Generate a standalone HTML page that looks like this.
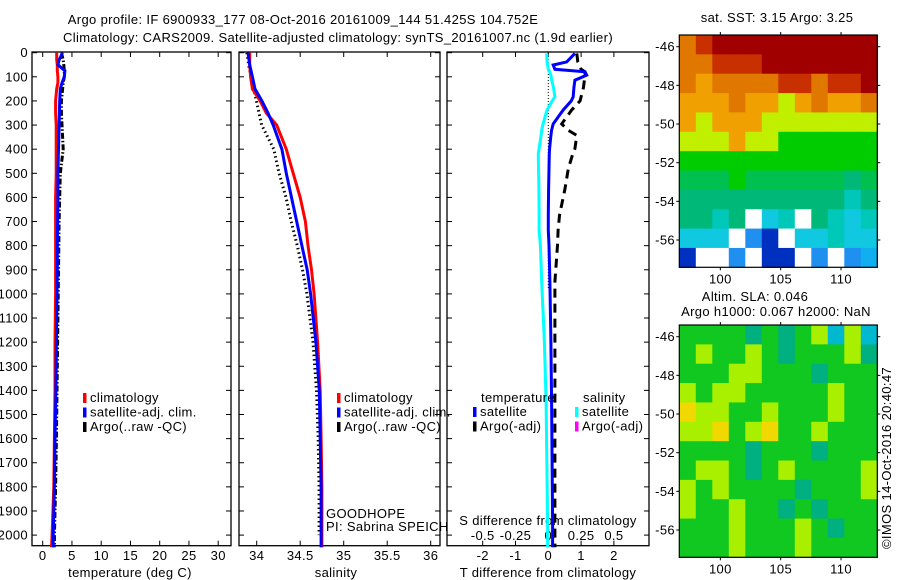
<!DOCTYPE html>
<html><head><meta charset="utf-8">
<style>
html,body{margin:0;padding:0;background:#fff;}
svg{display:block;font-family:"Liberation Sans",sans-serif;font-size:13px;letter-spacing:0.35px;}
</style></head>
<body>
<svg id="fig" width="900" height="580" viewBox="0 0 900 580" xmlns="http://www.w3.org/2000/svg">
<text x="303" y="24" text-anchor="middle">Argo profile: IF 6900933_177 08-Oct-2016 20161009_144 51.425S 104.752E</text>
<text x="338" y="42" text-anchor="middle">Climatology: CARS2009. Satellite-adjusted climatology: synTS_20161007.nc (1.9d earlier)</text>
<g id="g"></g>
</svg>
<script>
// ---- data ----
const depthT = [0,10,20,30,50,75,100,125,150,200,250,300,400,500,600,700,800,900,1000,1200,1400,1600,1800,2000,2050];
const tempClim = [2.4,2.4,2.4,2.4,2.5,2.5,2.6,2.6,2.4,2.2,2.2,2.3,2.3,2.3,2.2,2.2,2.2,2.2,2.2,2.1,2.1,2.0,1.9,1.6,1.5];
const tempSat  = [3.35,3.2,3.0,2.8,2.6,3.8,3.7,3.3,3.0,2.9,2.85,2.8,2.7,2.6,2.6,2.55,2.5,2.5,2.45,2.35,2.25,2.1,2.0,1.8,1.8];
const tempArgo = [3.3,3.3,3.4,3.5,3.6,3.7,3.7,3.5,3.4,3.2,3.2,3.3,3.5,3.0,2.9,2.8,2.75,2.7,2.65,2.55,2.45,2.35,2.2,2.0,2.0];
const depthS = [0,50,100,150,200,250,300,400,500,600,700,800,900,1000,1200,1400,1600,1800,2000,2050];
const salClim = [33.92,33.92,33.93,33.95,34.04,34.11,34.23,34.34,34.42,34.50,34.56,34.59,34.63,34.66,34.70,34.73,34.74,34.75,34.75,34.75];
const salSat  = [33.90,33.92,33.95,33.98,34.06,34.13,34.19,34.29,34.34,34.40,34.46,34.52,34.58,34.62,34.68,34.72,34.73,34.74,34.74,34.74];
const salArgo = [33.91,33.93,33.96,33.99,34.02,34.05,34.08,34.22,34.28,34.36,34.42,34.49,34.55,34.60,34.67,34.71,34.73,34.74,34.74];
const depthD = [3,38,51,69,79,93,114,145,183,200,238,295,321,343,398,418,481,564,674,736,798,950,1200,1450,1950,2050];
const tDiffSat  = [0.81,0.56,0.15,0.2,1.12,1.17,0.81,0.78,0.76,0.7,0.45,0.15,0.1,0.08,0.04,0.03,0.02,0.01,0.0,0.0,0.02,0.05,0.08,0.1,0.13,0.13];
const sDiffSat  = [-0.012,-0.01,-0.005,0.0,0.01,0.02,0.026,0.04,0.05,0.03,-0.01,-0.04,-0.05,-0.055,-0.07,-0.076,-0.075,-0.072,-0.07,-0.07,-0.06,-0.05,-0.03,-0.017,-0.005,-0.005];
const tDiffArgo = [0.87,0.9,0.95,1.0,1.12,1.12,1.1,1.07,1.0,0.97,0.71,0.41,0.6,0.87,0.81,0.75,0.61,0.51,0.34,0.3,0.28,0.2,0.2,0.2,0.2,0.2];
const depthTicks = [0,100,200,300,400,500,600,700,800,900,1000,1100,1200,1300,1400,1500,1600,1700,1800,1900,2000];
const tempTicks = [0,5,10,15,20,25,30];
const salTicks = [34,34.5,35,35.5,36];
const tdTicks = [-2,-1,0,1,2];
const sdTicks = [-0.5,-0.25,0,0.25,0.5];
const sdLabels = ["-0.5","-0.25","0","0.25","0.5"];
const latTicks = [-46,-48,-50,-52,-54,-56];
const lonTicks = [100,105,110];
const sstGrid = [
 [8,9,10,10,10,10,10,10,10,10,10,10],
 [8,8,9,9,9,10,10,10,10,10,10,10],
 [8,7,8,8,8,8,9,9,8,9,9,10],
 [7,7,7,8,7,7,6,7,8,7,7,8],
 [7,6,7,7,7,6,6,6,6,6,6,6],
 [6,6,6,7,6,6,5,5,5,5,5,5],
 [5,5,5,5,5,5,5,5,5,5,5,5],
 [4.5,4.5,4.5,5,4.5,4.5,4.5,4.5,4.5,4.5,4,4.5],
 [4,4,4,4,4,4,4,4,4,4,3.5,4],
 [4,4,3.5,4,-1,3,3.5,-1,4,3.5,3,3.5],
 [3,3,3,-1,2,1,-1,3,3,3.5,3,3],
 [1,-1,-1,2,-1,1,1,-1,2,-1,2,2.5]
];
const slaGrid = [
 [0,0,0,0,-1,0,-1,0,1,-2,1,-2],
 [0,1,0,0,1,0,-1,0,0,0,1,-1],
 [0,0,0,1,1,0,0,0,-1,0,0,0],
 [1,0,1,1,0,0,0,0,0,1,0,0],
 [2,1,1,0,0,1,0,0,0,1,0,0],
 [1,1,2,0,1,2,0,0,1,0,0,0],
 [0,0,0,0,-1,0,0,0,-1,0,0,0],
 [0,1,1,0,-1,0,1,0,0,0,0,1],
 [1,0,1,0,0,0,0,-1,0,0,0,1],
 [1,0,0,1,0,0,-1,0,-1,0,0,0],
 [0,0,0,1,0,0,0,1,0,-1,0,0],
 [0,0,0,1,0,0,0,1,0,0,0,0]
];
// ---- helpers ----
const NS="http://www.w3.org/2000/svg";
const G=document.getElementById('g');
function el(tag,attrs,parent){const e=document.createElementNS(NS,tag);for(const k in attrs)e.setAttribute(k,attrs[k]);(parent||G).appendChild(e);return e;}
function txt(x,y,s,anchor,parent){const t=el('text',{x:x,y:y,'text-anchor':anchor||'middle'},parent);t.textContent=s;return t;}
const TOP=52.7, BOT=545.7;
const yD=d=>TOP+d*0.2412;
const xT=v=>42.7+v*5.85;
const xS=v=>256.7+(v-34)*87;
const xTD=v=>548.3+v*32.8;
const xSD=v=>548.3+v*131.2;
function axesBox(x0,x1,name){
  const r=el('rect',{x:x0,y:52,width:x1-x0,height:BOT-52,fill:'none',stroke:'#000','stroke-width':1.3});
  
  
}
function vticks(xs){xs.forEach(x=>{el('line',{x1:x,x2:x,y1:52,y2:57,stroke:'#000'});el('line',{x1:x,x2:x,y1:BOT,y2:BOT-5,stroke:'#000'});});}
function hticks(x0,x1){depthTicks.forEach(d=>{const y=yD(d);el('line',{x1:x0,x2:x0+5,y1:y,y2:y,stroke:'#000'});el('line',{x1:x1,x2:x1-5,y1:y,y2:y,stroke:'#000'});});}
function poly(xs,ds,fx,color,w,dash,name){
  const pts=xs.map((v,i)=>fx(v).toFixed(1)+','+yD(ds[i]).toFixed(1)).join(' ');
  const p=el('polyline',{points:pts,fill:'none',stroke:color,'stroke-width':w});
  if(dash)p.setAttribute('stroke-dasharray',dash);
  
  
  return p;
}
function legend(x,y,items){items.forEach((it,i)=>{const yy=y+i*14.5;el('rect',{x:x,y:yy-9,width:3.5,height:10,fill:it[0]});const t=txt(x+7,yy,it[1],'start');});}
// ---- panel 1 temperature ----
axesBox(32,231,'temperature-axes');
vticks(tempTicks.map(xT));hticks(32,231);
depthTicks.forEach(d=>{const t=txt(28,yD(d)+4.5,String(d),'end');});
tempTicks.forEach(v=>txt(xT(v),560,String(v)));
const xl1=txt(130,577,'temperature (deg C)');
poly(tempArgo,depthT,xT,'#000',3,'6,2,1.5,2','temp-argo-line');
poly(tempClim,depthT,xT,'#f00',3,null,'temp-climatology-line');
poly(tempSat,depthT,xT,'#00f',3,null,'temp-satellite-line');
legend(83,402,[['#f00','climatology'],['#00f','satellite-adj. clim.'],['#000','Argo(..raw -QC)']]);
// ---- panel 2 salinity ----
axesBox(239,440,'salinity-axes');
vticks(salTicks.map(xS));hticks(239,440);
salTicks.forEach(v=>txt(xS(v),560,String(v)));
const xl2=txt(336,577,'salinity');
poly(salArgo,depthS.slice(0,salArgo.length),v=>xS(v)-2,'#000',3,'1.5,3','sal-argo-line');
poly(salClim,depthS,xS,'#f00',3,null,'sal-climatology-line');
poly(salSat,depthS,xS,'#00f',3,null,'sal-satellite-line');
legend(337,402,[['#f00','climatology'],['#00f','satellite-adj. clim.'],['#000','Argo(..raw -QC)']]);
txt(326,518,'GOODHOPE','start');txt(326,531,'PI: Sabrina SPEICH','start');
// ---- panel 3 differences ----
axesBox(447,649,'difference-axes');
vticks(tdTicks.map(xTD));hticks(447,649);
tdTicks.forEach(v=>txt(xTD(v),560,String(v)));
sdTicks.forEach((v,i)=>txt(xSD(v),540,sdLabels[i]));
txt(548,525,'S difference from climatology');
const xl3=txt(548,577,'T difference from climatology');
el('line',{x1:548.3,x2:548.3,y1:53,y2:yD(980),stroke:'#000','stroke-width':1,'stroke-dasharray':'1,2'});
poly(sDiffSat,depthD,xSD,'#0ff',3,null,'sal-diff-satellite-line');
poly(tDiffArgo,depthD,xTD,'#000',3,'9,6','temp-diff-argo-line');
poly(tDiffSat,depthD,xTD,'#00f',3,null,'temp-diff-satellite-line');
txt(481,402,'temperature','start');txt(583,402,'salinity','start');
legend(473,416,[['#00f','satellite'],['#000','Argo(-adj)']]);
legend(575,416,[['#0ff','satellite'],['#f0f','Argo(-adj)']]);
// ---- maps ----
const sstColors={'-1':'#fff','1':'#0030c0','1.5':'#1050d8','2':'#2090f0','2.5':'#10b0f0','3':'#10c8e0','3.5':'#00c8b8','4':'#00b878','4.5':'#00c050','5':'#00cc00','6':'#c0f000','7':'#f0a000','8':'#e07800','9':'#c83000','10':'#a00000'};
const slaColors={'-2':'#00b8d0','-1':'#00b080','0':'#10c820','1':'#a8f000','2':'#f0d800'};
const mx0=679.3,mx1=877.3;
const xLon=v=>mx0+(v-96.6)*12.07;
function BOTM(y0){return y0+232.3;}
function drawMap(y0,grid,cmap,name,latTopPx){
  const rows=grid.length, cols=grid[0].length, h=(BOTM(y0)-y0)/rows, w=(mx1-mx0)/cols;
  const g=el('g',{});
  
  
  grid.forEach((row,i)=>row.forEach((v,j)=>{el('rect',{x:(mx0+j*w).toFixed(2),y:(y0+i*h).toFixed(2),width:(w+0.6).toFixed(2),height:(h+0.6).toFixed(2),fill:cmap[String(v)]||'#0c0'},g);}));
  el('rect',{x:mx0,y:y0,width:mx1-mx0,height:BOTM(y0)-y0,fill:'none',stroke:'#000','stroke-width':1.2});
  const yLat=v=>latTopPx+(-46-v)*19.33;
  latTicks.forEach(v=>{const y=yLat(v);el('line',{x1:mx0-3,x2:mx0,y1:y,y2:y,stroke:'#000'});el('line',{x1:mx1,x2:mx1+3,y1:y,y2:y,stroke:'#000'});txt(675,y+4.5,String(v),'end');});
  lonTicks.forEach(v=>{const x=xLon(v);el('line',{x1:x,x2:x,y1:y0-3,y2:y0,stroke:'#000'});el('line',{x1:x,x2:x,y1:BOTM(y0),y2:BOTM(y0)+3,stroke:'#000'});txt(x,BOTM(y0)+16,String(v));});
}
drawMap(35,sstGrid,sstColors,'sst-map',46.7);
drawMap(325,slaGrid,slaColors,'sla-map',336.7);
txt(777,22,'sat. SST: 3.15 Argo: 3.25');
txt(755,301,'Altim. SLA: 0.046');
txt(776,316,'Argo h1000: 0.067 h2000: NaN');
const im=txt(0,0,'©IMOS 14-Oct-2016 20:40:47');
im.setAttribute('transform','translate(891,458) rotate(-90)');


</script>
</body></html>
